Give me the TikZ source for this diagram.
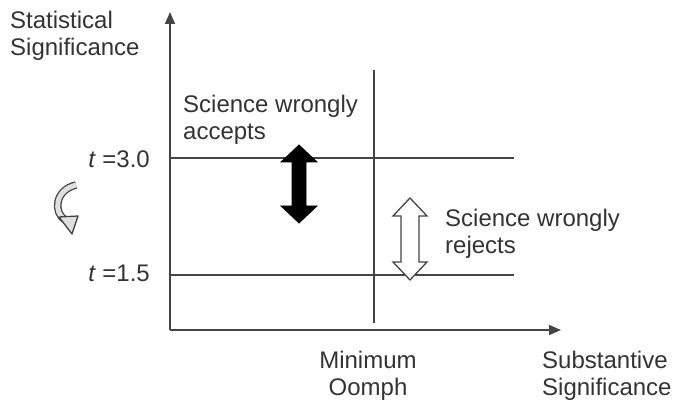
\documentclass[tikz,border=0pt]{standalone}
\usepackage{fontspec}
\setmainfont{Liberation Sans}
\usepackage{tikz}
\usetikzlibrary{shapes,arrows,arrows.meta,positioning}

\definecolor{ink}{HTML}{333333}
\definecolor{rule}{HTML}{444444}

\begin{document}
\begin{tikzpicture}[x=1pt, y=-1pt,
    lbl/.style={inner sep=0pt, text=ink, align=left, font=\fontsize{24}{27}\selectfont},
    axis/.style={draw=rule, line width=1.6pt, -{Triangle[length=12pt,width=10pt]}},
    level/.style={draw=rule, line width=1.3pt}]
      \useasboundingbox (0,0) rectangle (680,403);

      % Axes
      \coordinate (origin) at (170,330);
      \coordinate (ytop) at (170,12);
      \coordinate (xend) at (561,330);
      \draw[axis] (origin) -- (ytop);
      \draw[axis] (origin) -- (xend);

      % Thresholds
      \coordinate (hi) at (170,158); \coordinate (hiend) at (514,158);
      \coordinate (lo) at (170,275); \coordinate (loend) at (514,275);
      \coordinate (oomphtop) at (374,70); \coordinate (oomphbot) at (374,323);
      \draw[level] (hi) -- (hiend);
      \draw[level] (lo) -- (loend);
      \draw[level] (oomphtop) -- (oomphbot);

      % Labels
      \node[lbl, anchor=north west] (ylabel) at (10,11) {Statistical\\Significance};
      \node[lbl, anchor=base east] (thi) at (150,168) {\textit{t} =3.0};
      \node[lbl, anchor=base east] (tlo) at (150,282) {\textit{t} =1.5};
      \node[lbl, anchor=north west] (accepts) at (183,95) {Science wrongly\\accepts};
      \node[lbl, anchor=north west] (rejects) at (445,209) {Science wrongly\\rejects};
      \node[lbl, anchor=north, align=center] (oomph) at (368,351) {Minimum\\Oomph};
      \node[lbl, anchor=north west] (xlabel) at (542,351) {Substantive\\Significance};

      % Black arrow
      \draw[fill=black, line width=0.8pt] (299,145) -- (317,162) -- (306,162) -- (306,206) -- (317,206)
        -- (299,223) -- (281,206) -- (292,206) -- (292,162) -- (281,162) -- cycle;

      % White arrow
      \draw[fill=white, draw=rule, line width=1.3pt] (410,198) -- (427,216) -- (419,216) -- (419,262) -- (427,262)
        -- (410,280) -- (393,262) -- (401,262) -- (401,216) -- (393,216) -- cycle;

      % Curved arrow
      \draw[draw=rule, line width=1.3pt, double=gray!25, double distance=5pt] (76,185) .. controls (55,190) and (53,212) .. (65,220);
      \draw[draw=rule, fill=gray!25, line width=1.3pt, line join=round] (59,217) -- (78,216) -- (72,234) -- cycle;
    \end{tikzpicture}
\end{document}
